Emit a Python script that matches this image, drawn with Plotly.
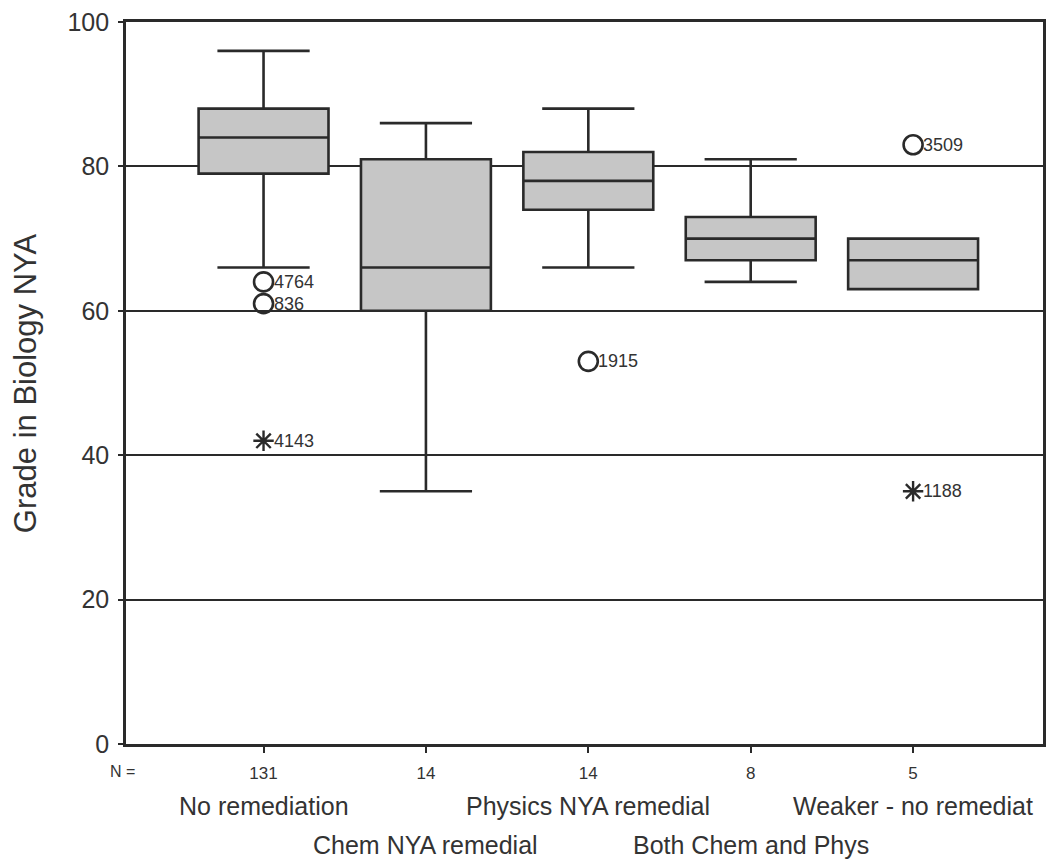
import plotly.graph_objects as go

# ---- data ----
categories = ["No remediation", "Chem NYA remedial", "Physics NYA remedial",
              "Both Chem and Phys", "Weaker - no remediat"]
n_counts = ["131", "14", "14", "8", "5"]
lower_whisker = [66, 35, 66, 64, 63]
q1_vals = [79, 60, 74, 67, 63]
median_vals = [84, 66, 78, 70, 67]
q3_vals = [88, 81, 82, 73, 70]
upper_whisker = [96, 86, 88, 81, 70]

outlier_cat = [0, 0, 2, 4]
outlier_val = [64, 61, 53, 83]
outlier_id = ["4764", "836", "1915", "3509"]

extreme_cat = [0, 4]
extreme_val = [42, 35]
extreme_id = ["4143", "1188"]

y_ticks = [0, 20, 40, 60, 80, 100]

# ---- style ----
FONT = "Arial, Liberation Sans, sans-serif"
DARK = "#2a2a2a"
TXT = "#333333"
FILL = "#c6c6c6"

pos = list(range(len(categories)))

fig = go.Figure()
fig.add_trace(go.Box(
    x=pos, q1=q1_vals, median=median_vals, q3=q3_vals,
    lowerfence=lower_whisker, upperfence=upper_whisker,
    width=0.8, whiskerwidth=0.71,
    fillcolor=FILL, line=dict(color=DARK, width=2.6),
    boxpoints=False, hoverinfo="skip", showlegend=False,
))
fig.add_trace(go.Scatter(
    x=outlier_cat, y=outlier_val, mode="markers",
    marker=dict(symbol="circle-open", size=19, color=DARK, line=dict(width=2.6)),
    showlegend=False, cliponaxis=False, hoverinfo="skip",
))
fig.add_trace(go.Scatter(
    x=extreme_cat, y=extreme_val, mode="markers",
    marker=dict(symbol="asterisk-open", size=17, color=DARK, line=dict(width=2.4)),
    showlegend=False, cliponaxis=False, hoverinfo="skip",
))

annotations = []
# point labels
for cx, vy, lab in list(zip(outlier_cat, outlier_val, outlier_id)) + \
        list(zip(extreme_cat, extreme_val, extreme_id)):
    annotations.append(dict(
        x=cx, xref="x", y=vy, yref="y", xshift=8,
        text=lab, showarrow=False, xanchor="left", yanchor="middle",
        font=dict(family=FONT, size=18, color=TXT),
    ))
# category labels in two staggered rows
for i, name in enumerate(categories):
    shift = -62 if i % 2 == 0 else -101
    annotations.append(dict(
        x=i, xref="x", y=0, yref="paper", yshift=shift,
        text=name, showarrow=False, xanchor="center", yanchor="middle",
        font=dict(family=FONT, size=25, color=TXT),
    ))
annotations.append(dict(
    x=-0.004, xref="paper", y=0, yref="paper", yshift=-27,
    text="N =", showarrow=False, xanchor="center", yanchor="middle",
    font=dict(family=FONT, size=16, color=TXT),
))
annotations.append(dict(
    x=-0.11, xref="paper", y=0.5, yref="paper",
    text="Grade in Biology NYA", textangle=-90, showarrow=False,
    xanchor="center", yanchor="middle",
    font=dict(family=FONT, size=31, color=TXT),
))

fig.update_layout(
    width=1047, height=862,
    margin=dict(l=126, r=1, t=22, b=118),
    paper_bgcolor="white", plot_bgcolor="white",
    annotations=annotations,
    xaxis=dict(
        range=[-0.847, 4.80], tickmode="array", tickvals=pos, ticktext=n_counts,
        ticks="outside", ticklen=6, tickwidth=2, tickcolor=DARK,
        tickfont=dict(family=FONT, size=17, color=TXT), ticklabelstandoff=6,
        showline=True, linecolor=DARK, linewidth=2.6, mirror=True,
        showgrid=False, zeroline=False,
    ),
    yaxis=dict(
        range=[0, 100], tickmode="array", tickvals=y_ticks,
        ticks="outside", ticklen=5, tickwidth=2, tickcolor=DARK,
        tickfont=dict(family=FONT, size=25, color=TXT), ticklabelstandoff=4,
        showline=True, linecolor=DARK, linewidth=2.6, mirror=True,
        showgrid=True, gridcolor=DARK, gridwidth=2, zeroline=False,
    ),
)

fig.write_html("out.html")
